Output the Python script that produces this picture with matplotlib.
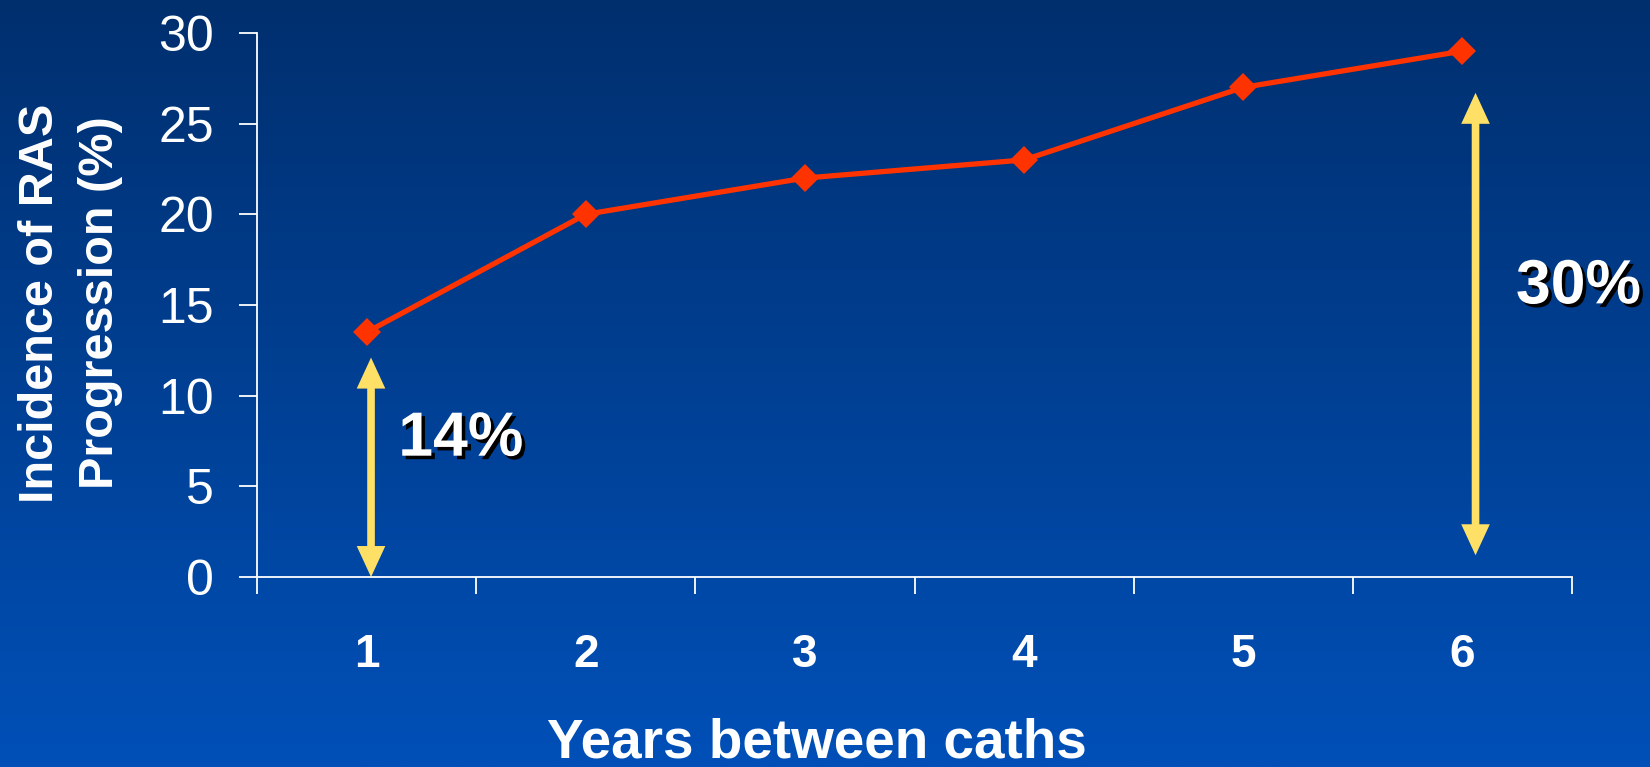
import numpy as np
import matplotlib
matplotlib.use("Agg")
import matplotlib.pyplot as plt
import matplotlib.patheffects as pe
from matplotlib.colors import LinearSegmentedColormap

plt.rcParams['font.family'] = ['Liberation Sans', 'DejaVu Sans']

# incidence of RAS progression by years between caths
years = [1, 2, 3, 4, 5, 6]
incidence = [13.5, 20, 22, 23, 27, 29]
year_labels = ['1', '2', '3', '4', '5', '6']
y_ticks = [0, 5, 10, 15, 20, 25, 30]

# the two highlighted spans: (x, bottom, top, label, label x, label y)
span_1yr = (1.02, 0.0, 12.1, '14%', 1.43, 7.6)
span_6yr = (6.06, 1.2, 26.7, '30%', 6.53, 16.0)

fig = plt.figure(figsize=(16.5, 7.67), dpi=100)

# background gradient: navy at top to brighter blue at bottom
bg = fig.add_axes([0, 0, 1, 1], zorder=-10)
grad = np.linspace(0, 1, 256).reshape(-1, 1)
cmap = LinearSegmentedColormap.from_list('bg', ['#002f6e', '#0050b8'])
bg.imshow(grad, aspect='auto', cmap=cmap, extent=[0, 1, 0, 1])
bg.axis('off')

ax = fig.add_axes([0.1558, 0.2477, 0.7969, 0.7093])
ax.patch.set_alpha(0)

ax.plot(years, incidence, color='#ff3300', lw=3.8, marker='D', ms=14,
        markeredgewidth=0, zorder=5)

ax.set_xlim(0.5, 6.5)
ax.set_ylim(0, 30)

for s in ['top', 'right']:
    ax.spines[s].set_visible(False)
for s in ['left', 'bottom']:
    ax.spines[s].set_color('white')
    ax.spines[s].set_linewidth(1.3)

ax.set_yticks(y_ticks)
ax.set_yticklabels([str(v) for v in y_ticks])
ax.tick_params(axis='y', colors='white', labelsize=36, length=13, width=1.3,
               pad=18, direction='out')

ax.set_xticks(years)
ax.set_xticklabels(year_labels, fontweight='bold')
ax.set_xticks(np.arange(0.5, 7.0, 1.0), minor=True)
ax.tick_params(axis='x', which='major', colors='white', labelsize=33,
               length=0, pad=40)
ax.tick_params(axis='x', which='minor', colors='white', length=12,
               width=1.3, direction='out')

for x, y0, y1, txt, tx, ty in [span_1yr, span_6yr]:
    ax.annotate('', xy=(x, y0), xytext=(x, y1),
                arrowprops=dict(arrowstyle='<|-|>,head_length=1.3,head_width=0.6',
                                color='#ffe066', lw=5.5, mutation_scale=10,
                                shrinkA=0, shrinkB=0, joinstyle='miter',
                                capstyle='butt'),
                annotation_clip=False)
    ax.text(tx, ty, txt, color='white', fontsize=45, fontweight='bold',
            ha='center', va='center', clip_on=False,
            path_effects=[pe.withSimplePatchShadow(offset=(2.5, -2.5),
                                                    shadow_rgbFace='black',
                                                    alpha=1.0)])

fig.text(0.0427, 0.605, 'Incidence of RAS\nProgression (%)', rotation=90,
         color='white', fontsize=35, fontweight='bold', ha='center',
         va='center', linespacing=1.45)
fig.text(0.495, 0.031, 'Years between caths', color='white', fontsize=39.5,
         fontweight='bold', ha='center', va='center')

fig.savefig('out.png', dpi=100)
